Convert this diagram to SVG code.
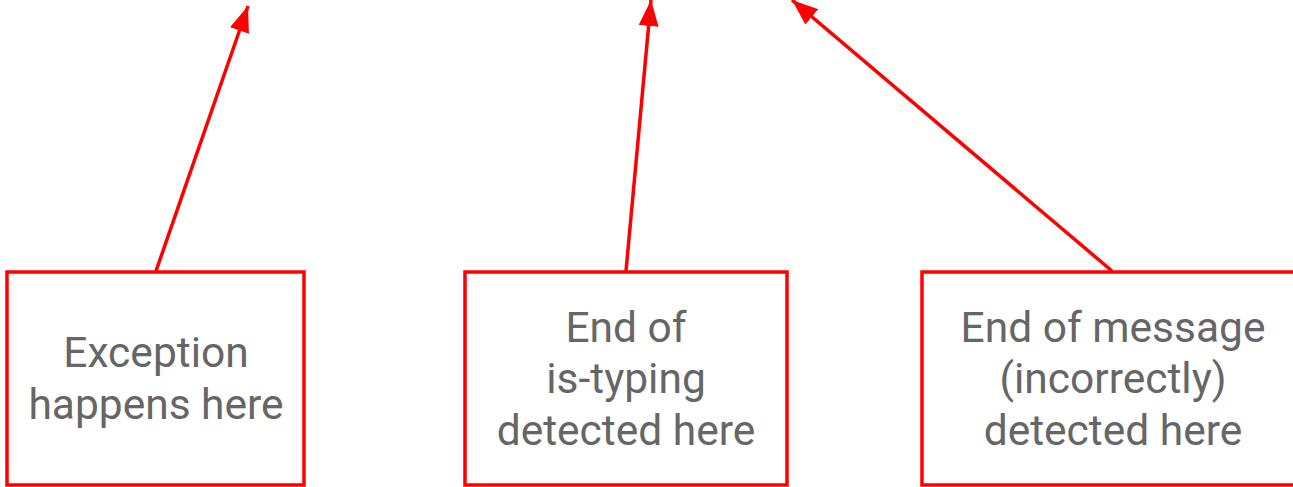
<svg xmlns="http://www.w3.org/2000/svg" width="1293" height="487" viewBox="0 0 1293 487">
  <defs>
    <marker id="head" markerUnits="userSpaceOnUse" markerWidth="28" markerHeight="22" refX="26" refY="10" orient="auto">
      <path d="M0,0 L26,10 L0,20 Z" fill="#ff0000"/>
    </marker>
    <style>
      .box { fill: #ffffff; stroke: #ff0000; stroke-width: 3.5; }
      .lbl { font-family: Roboto, "Liberation Sans", sans-serif; font-size: 42.5px; fill: #666666; text-anchor: middle; }
      .link { stroke: #ff0000; stroke-width: 3.5; fill: none; marker-end: url(#head); }
    </style>
  </defs>
  <rect width="1293" height="487" fill="#ffffff"/>

  <g id="connectors">
    <line class="link" x1="156" y1="271" x2="248" y2="6"/>
    <line class="link" x1="626" y1="271" x2="651" y2="0"/>
    <line class="link" x1="1112" y1="271" x2="792" y2="0"/>
  </g>

  <g id="exception">
    <rect class="box" x="7" y="272" width="297" height="213"/>
    <text class="lbl" x="156" y="367">Exception</text>
    <text class="lbl" x="156" y="419">happens here</text>
  </g>

  <g id="end-typing">
    <rect class="box" x="465" y="272" width="322" height="213"/>
    <text class="lbl" x="626" y="342">End of</text>
    <text class="lbl" x="626" y="393">is-typing</text>
    <text class="lbl" x="626" y="445">detected here</text>
  </g>

  <g id="end-message">
    <rect class="box" x="922" y="272" width="380" height="213"/>
    <text class="lbl" x="1113" y="342">End of message</text>
    <text class="lbl" x="1113" y="393">(incorrectly)</text>
    <text class="lbl" x="1113" y="445">detected here</text>
  </g>
</svg>
